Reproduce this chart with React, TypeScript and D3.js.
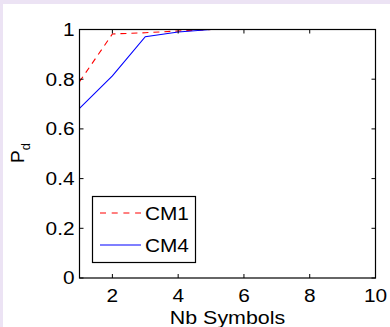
import React from 'react';
import * as d3 from 'd3';

const symbols = [1, 2, 3, 4, 5, 6, 7, 8, 9, 10];
const cm1 = [0.79, 0.982, 0.987, 0.994, 1, 1, 1, 1, 1, 1];
const cm4 = [0.683, 0.813, 0.971, 0.99, 1, 1, 1, 1, 1, 1];
const xTicks = [2, 4, 6, 8, 10];
const yTicks = [0, 0.2, 0.4, 0.6, 0.8, 1];
const yTickLabels = ['0', '0.2', '0.4', '0.6', '0.8', '1'];
const seriesNames = ['CM1', 'CM4'];

const W = 390;
const H = 327;
const box = { left: 79.5, right: 375.5, top: 29.5, bottom: 278 };
const font = '"Liberation Sans", Arial, sans-serif';
// the original figure looks stretched sideways a little
const stretch = 1.19;

interface LabelProps {
  x: number;
  y: number;
  anchor?: 'start' | 'middle' | 'end';
  size?: number;
  dy?: string;
  children: React.ReactNode;
}

const Label: React.FC<LabelProps> = ({ x, y, anchor = 'start', size = 17.5, dy, children }) => (
  <text
    transform={`translate(${x},${y})scale(${stretch},1)`}
    textAnchor={anchor}
    fontSize={size}
    dy={dy}
  >
    {children}
  </text>
);

const App: React.FC = () => {
  const x = d3.scaleLinear().domain([1, 10]).range([box.left, box.right]);
  const y = d3.scaleLinear().domain([0, 1]).range([box.bottom, box.top]);

  const line = d3
    .line<number>()
    .x((_d, i) => x(symbols[i]))
    .y((d) => y(d));

  const tickLen = 4;

  return (
    <svg
      width={W}
      height={H}
      style={{ position: 'absolute', left: 0, top: 0, display: 'block' }}
      fontFamily={font}
    >
      <rect x={0} y={0} width={W} height={H} fill="#ece3f4" />
      <rect x={3} y={4} width={W - 3} height={H - 4} fill="#ffffff" />

      {/* series */}
      <path d={line(cm1) ?? ''} fill="none" stroke="#ff0000" strokeWidth={1.1} strokeDasharray="6,5" />
      <path d={line(cm4) ?? ''} fill="none" stroke="#0000ff" strokeWidth={1.1} />

      {/* axes box */}
      <rect
        x={box.left}
        y={box.top}
        width={box.right - box.left}
        height={box.bottom - box.top}
        fill="none"
        stroke="#000"
        strokeWidth={1.2}
      />

      {/* x ticks */}
      {xTicks.map((t) => (
        <g key={`x${t}`}>
          <line x1={x(t)} x2={x(t)} y1={box.bottom} y2={box.bottom - tickLen} stroke="#000" />
          <line x1={x(t)} x2={x(t)} y1={box.top} y2={box.top + tickLen} stroke="#000" />
          <Label x={x(t)} y={301.5} anchor="middle">
            {t}
          </Label>
        </g>
      ))}

      {/* y ticks */}
      {yTicks.map((t, i) => (
        <g key={`y${t}`}>
          <line x1={box.left} x2={box.left + tickLen} y1={y(t)} y2={y(t)} stroke="#000" />
          <line x1={box.right} x2={box.right - tickLen} y1={y(t)} y2={y(t)} stroke="#000" />
          <Label x={74.5} y={y(t)} dy="0.36em" anchor="end">
            {yTickLabels[i]}
          </Label>
        </g>
      ))}

      {/* axis labels */}
      <Label x={(box.left + box.right) / 2} y={324} anchor="middle" size={18}>
        Nb Symbols
      </Label>
      <text transform={`translate(24,${153})rotate(-90)`} textAnchor="middle" fontSize={19}>
        P
        <tspan fontSize={13} dy={6}>
          d
        </tspan>
      </text>

      {/* legend */}
      <rect x={92.5} y={196.5} width={103} height={66} fill="#fff" stroke="#000" strokeWidth={1.2} />
      <line x1={100} x2={141} y1={213} y2={213} stroke="#ff0000" strokeWidth={1.1} strokeDasharray="6,5.7" />
      <line x1={100} x2={141} y1={245} y2={245} stroke="#0000ff" strokeWidth={1.1} />
      <Label x={145} y={213.5} dy="0.36em">
        {seriesNames[0]}
      </Label>
      <Label x={145} y={245.5} dy="0.36em">
        {seriesNames[1]}
      </Label>
    </svg>
  );
};

export default App;
